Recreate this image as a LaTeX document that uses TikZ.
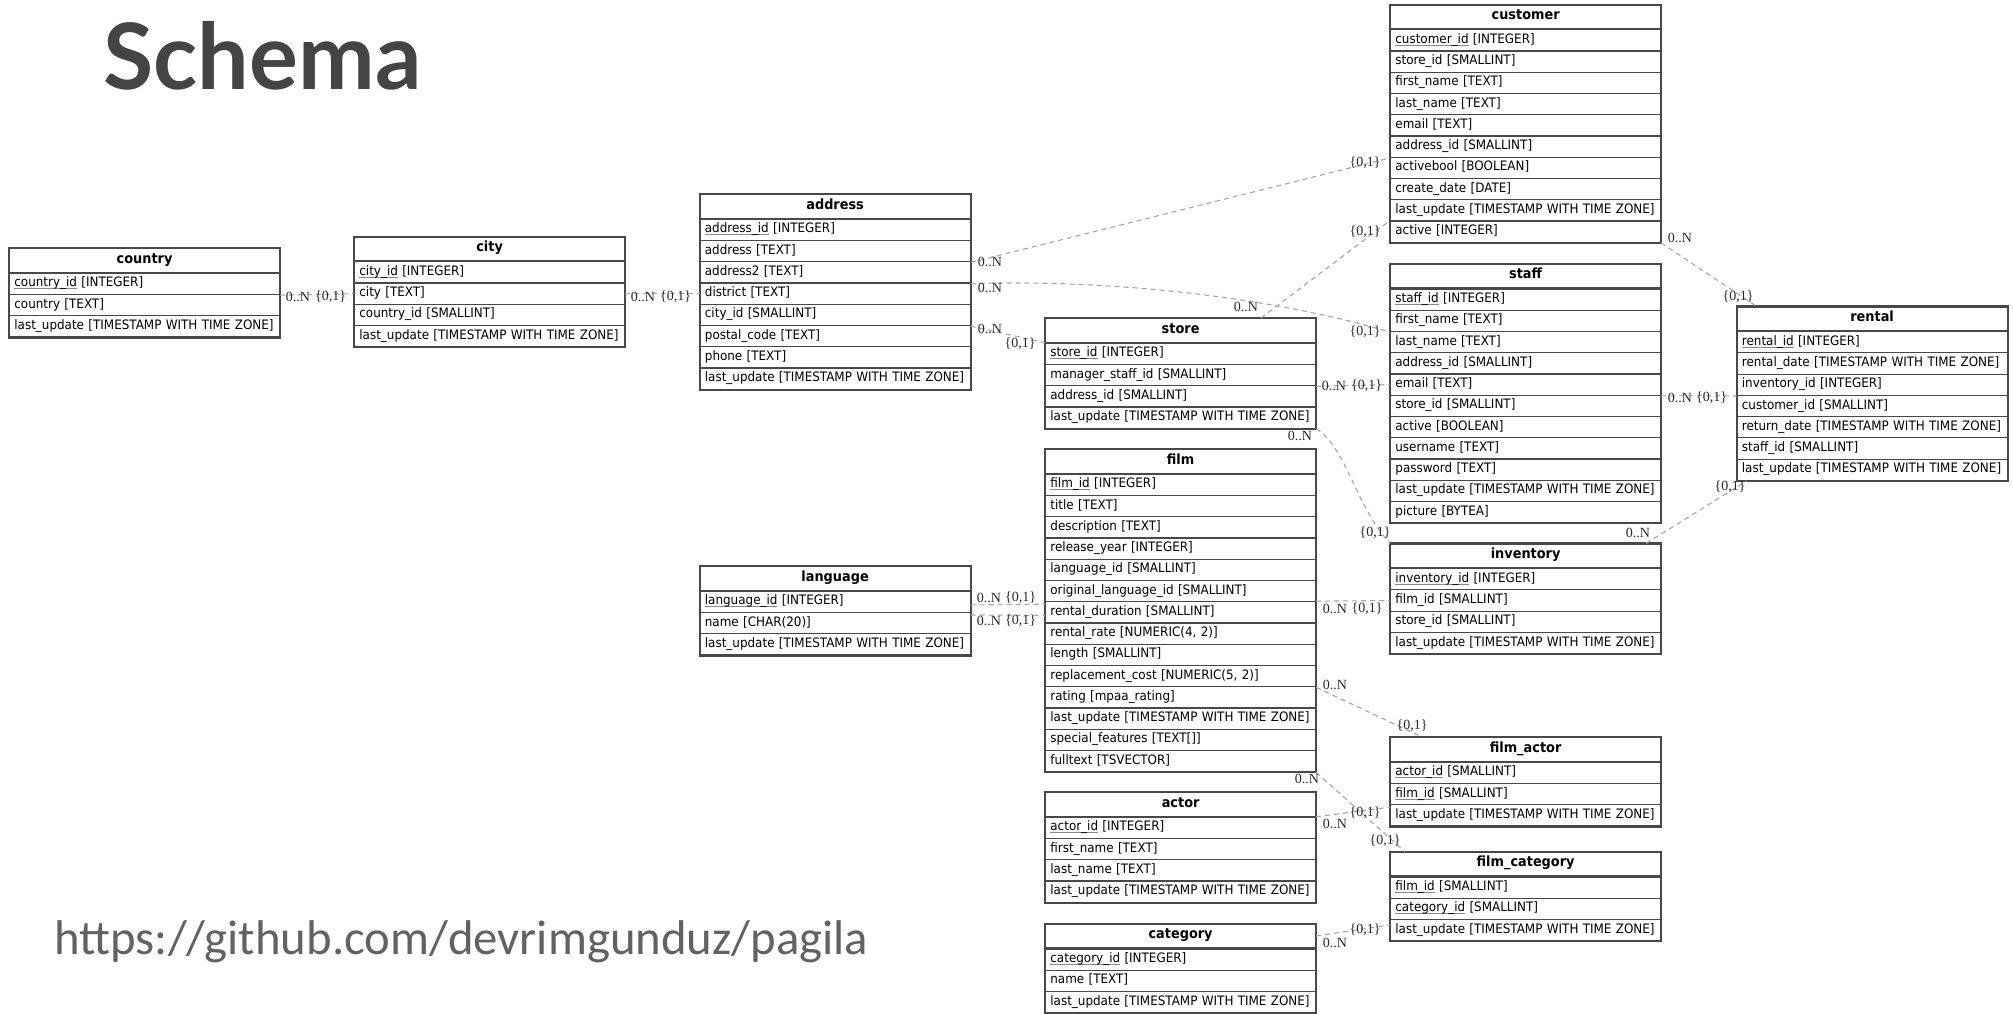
\documentclass[tikz,border=0pt]{standalone}
\usepackage{fontspec}
\usepackage{graphicx}
\setmainfont{DejaVu Sans}[FakeStretch=0.92]
\newfontfamily\edgefont{Liberation Serif}
\newfontfamily\titlefont{Lato}
\newfontfamily\urlfont{Carlito}
\usetikzlibrary{calc}

\definecolor{boxline}{HTML}{484848}
\definecolor{keyline}{HTML}{8A8A8A}
\definecolor{relline}{HTML}{A6A6A6}
\definecolor{lbltext}{HTML}{2A2A2A}
\definecolor{titlegray}{HTML}{444444}
\definecolor{urlgray}{HTML}{626262}

% primary key column: name with a thin grey underline
\newcommand\keyname[1]{\setbox0=\hbox{#1}\rlap{\textcolor{keyline}{\rule[-1.2pt]{\wd0}{0.5pt}}}\box0\relax}
\newcommand\lastupd{last\_update [TIMESTAMP WITH TIME ZONE]}

% \dbtable{name}{x}{y}{number of rows}{title}{rows}
\newcommand\dbtable[6]{%
  \node[tblhead] (#1) at (#2,#3) {#5};
  \foreach \rowtext [count=\k] in {#6}{%
    \node[tblrow] (#1-\k) at ($(#1.south west)+(0,{(\k-1)*21.25})$)
      {\hspace*{2.4pt}\mbox{\rowtext}};
  }
  \draw[tblframe] (#1.north west) rectangle (#1-#4.south east);
  \draw[tblrule] (#1.south west) -- (#1.south east);
}

\begin{document}
\begin{tikzpicture}[x=0.5pt,y=-0.5pt,
  tblhead/.style={anchor=north west, draw=boxline, line width=0.6pt,
    minimum width=135pt, minimum height=11.75pt, inner sep=0pt,
    font=\fontsize{7}{8}\selectfont\bfseries, text height=4.8pt, text depth=1.9pt},
  tblrow/.style={anchor=north west, draw=boxline, line width=0.6pt,
    text width=135pt, align=left, minimum height=10.625pt,
    inner xsep=0pt, inner ysep=0pt,
    font=\fontsize{6.5}{7.5}\selectfont, text height=4.4pt, text depth=1.35pt},
  tblframe/.style={draw=boxline, line width=0.9pt},
  tblrule/.style={draw=boxline, line width=1.2pt},
  rel/.style={draw=relline, line width=0.55pt, dash pattern=on 2.5pt off 2pt},
  card/.style={font=\edgefont\fontsize{7}{8}\selectfont, text=lbltext, inner sep=0pt}
]
\fill[white] (0,0) rectangle (2013,1013);
\useasboundingbox (0,0) rectangle (2013,1013);

% heading and source link
\node[anchor=base west, inner sep=0pt, text=titlegray] (title) at (103,89)
  {\resizebox{159pt}{!}{\titlefont\bfseries Schema}};
\node[anchor=base west, inner sep=0pt, text=urlgray] (url) at (54,954)
  {\resizebox{407pt}{!}{\urlfont https://github.com/devrimgunduz/pagila}};

% tables
\dbtable{country}{9}{248}{3}{country}{\keyname{country\_id} [INTEGER], country [TEXT], \lastupd}
\dbtable{city}{354}{236.5}{4}{city}{\keyname{city\_id} [INTEGER], city [TEXT], country\_id [SMALLINT], \lastupd}
\dbtable{address}{699.5}{194}{8}{address}{\keyname{address\_id} [INTEGER], address [TEXT], address2 [TEXT], district [TEXT], city\_id [SMALLINT], postal\_code [TEXT], phone [TEXT], \lastupd}
\dbtable{customer}{1390}{4.5}{10}{customer}{\keyname{customer\_id} [INTEGER], store\_id [SMALLINT], first\_name [TEXT], last\_name [TEXT], email [TEXT], address\_id [SMALLINT], activebool [BOOLEAN], create\_date [DATE], \lastupd, active [INTEGER]}
\dbtable{staff}{1390}{263.7}{11}{staff}{\keyname{staff\_id} [INTEGER], first\_name [TEXT], last\_name [TEXT], address\_id [SMALLINT], email [TEXT], store\_id [SMALLINT], active [BOOLEAN], username [TEXT], password [TEXT], \lastupd, picture [BYTEA]}
\dbtable{rental}{1736.5}{306.3}{7}{rental}{\keyname{rental\_id} [INTEGER], rental\_date [TIMESTAMP WITH TIME ZONE], inventory\_id [INTEGER], customer\_id [SMALLINT], return\_date [TIMESTAMP WITH TIME ZONE], staff\_id [SMALLINT], \lastupd}
\dbtable{store}{1045}{318}{4}{store}{\keyname{store\_id} [INTEGER], manager\_staff\_id [SMALLINT], address\_id [SMALLINT], \lastupd}
\dbtable{film}{1045}{449}{14}{film}{\keyname{film\_id} [INTEGER], title [TEXT], description [TEXT], release\_year [INTEGER], language\_id [SMALLINT], original\_language\_id [SMALLINT], rental\_duration [SMALLINT], {rental\_rate [NUMERIC(4, 2)]}, length [SMALLINT], {replacement\_cost [NUMERIC(5, 2)]}, rating [mpaa\_rating], \lastupd, special\_features [TEXT{[]}], fulltext [TSVECTOR]}
\dbtable{language}{699.5}{566}{3}{language}{\keyname{language\_id} [INTEGER], name [CHAR(20)], \lastupd}
\dbtable{inventory}{1390}{543.3}{4}{inventory}{\keyname{inventory\_id} [INTEGER], film\_id [SMALLINT], store\_id [SMALLINT], \lastupd}
\dbtable{filmactor}{1390}{737}{3}{film\_actor}{\keyname{actor\_id} [SMALLINT], \keyname{film\_id} [SMALLINT], \lastupd}
\dbtable{actor}{1045}{792}{4}{actor}{\keyname{actor\_id} [INTEGER], first\_name [TEXT], last\_name [TEXT], \lastupd}
\dbtable{filmcategory}{1390}{851.7}{3}{film\_category}{\keyname{film\_id} [SMALLINT], \keyname{category\_id} [SMALLINT], \lastupd}
\dbtable{category}{1045}{923.7}{3}{category}{\keyname{category\_id} [INTEGER], name [TEXT], \lastupd}

% relations
\draw[rel] (country-1.south east) -- (city-2.west);
\draw[rel] (city-2.east) -- (address-4.west);
\draw[rel] (address-2.south east) -- (customer-6.south west);
\draw[rel] (address-3.south east) .. controls +(160,-5) and +(-100,-30) .. (staff-2.south west);
\draw[rel] (address-5.south east) -- (store.south west);
\draw[rel] ($(store.north west)+(216,0)$) -- (customer-10.north west);
\draw[rel] (store-2.south east) -- (staff-5.west);
\draw[rel] (store-4.south east) .. controls +(30,18) and +(-35,-38) .. (inventory.north west);
\draw[rel] (customer-10.south east) -- ($(rental.north west)+(20,0)$);
\draw[rel] (staff-5.south east) -- (rental-3.south west);
\draw[rel] ($(inventory.north east)+(-15,0)$) -- ($(rental-7.south west)+(10,0)$);
\draw[rel] ($(language-1.east)+(0,3)$) -- ($(film-7.north west)+(0,3)$);
\draw[rel] ($(language-2.north east)+(0,3)$) -- ($(film-7.west)+(0,3)$);
\draw[rel] (film-7.north east) -- (inventory-2.west);
\draw[rel] (film-10.south east) -- ($(filmactor.north west)+(32,0)$);
\draw[rel] (film-14.south east) -- ($(filmcategory.north west)+(15,0)$);
\draw[rel] (actor.south east) -- ($(filmactor-3.north west)+(0,3)$);
\draw[rel] (category.east) -- ($(filmcategory-3.north west)+(0,6)$);

% cardinalities
\node[card] (c1a) at (298,297) {0..N};     \node[card] (c1b) at (330.5,297) {\{0,1\}};
\node[card] (c2a) at (643,297) {0..N};     \node[card] (c2b) at (675.5,297) {\{0,1\}};
\node[card] (c3a) at (990,262) {0..N};     \node[card] (c3b) at (1365,163) {\{0,1\}};
\node[card] (c4a) at (990,288) {0..N};     \node[card] (c4b) at (1365,332) {\{0,1\}};
\node[card] (c5a) at (990,329) {0..N};     \node[card] (c5b) at (1020,344) {\{0,1\}};
\node[card] (c6a) at (1246,307) {0..N};    \node[card] (c6b) at (1365,232) {\{0,1\}};
\node[card] (c7a) at (1334,386) {0..N};    \node[card] (c7b) at (1366.5,386) {\{0,1\}};
\node[card] (c8a) at (1300,436) {0..N};    \node[card] (c8b) at (1375,533) {\{0,1\}};
\node[card] (c9a) at (1680,238) {0..N};    \node[card] (c9b) at (1738,297) {\{0,1\}};
\node[card] (c10a) at (1680,398) {0..N};   \node[card] (c10b) at (1711.5,398) {\{0,1\}};
\node[card] (c11a) at (1638,533) {0..N};   \node[card] (c11b) at (1730,487) {\{0,1\}};
\node[card] (c12a) at (989,598) {0..N};    \node[card] (c12b) at (1020.5,598) {\{0,1\}};
\node[card] (c13a) at (989,621) {0..N};    \node[card] (c13b) at (1020.5,621) {\{0,1\}};
\node[card] (c14a) at (1335,609) {0..N};   \node[card] (c14b) at (1367,609) {\{0,1\}};
\node[card] (c15a) at (1335,685) {0..N};   \node[card] (c15b) at (1412,726) {\{0,1\}};
\node[card] (c16a) at (1307,779) {0..N};   \node[card] (c16b) at (1385,841) {\{0,1\}};
\node[card] (c17a) at (1335,824) {0..N};   \node[card] (c17b) at (1365,813) {\{0,1\}};
\node[card] (c18a) at (1335,943) {0..N};   \node[card] (c18b) at (1365,930) {\{0,1\}};
\end{tikzpicture}
\end{document}
